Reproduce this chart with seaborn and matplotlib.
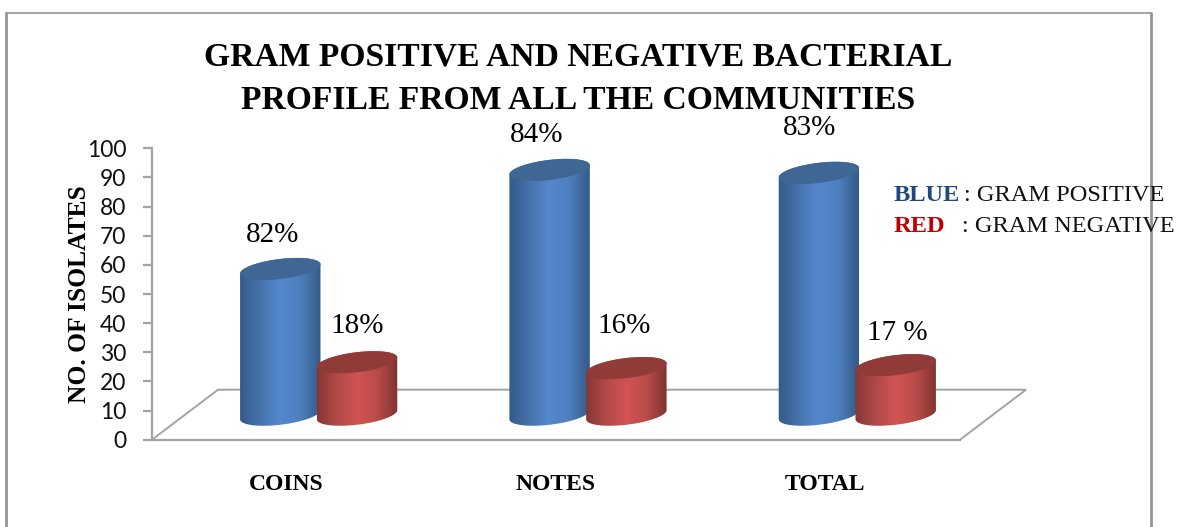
import numpy as np
import pandas as pd
import matplotlib
matplotlib.use("Agg")
import matplotlib.pyplot as plt
from matplotlib.colors import LinearSegmentedColormap
from matplotlib.patches import PathPatch, Polygon
from matplotlib.path import Path
import seaborn as sns

# Chart content
categories = ["COINS", "NOTES", "TOTAL"]
gram_positive = [50, 84, 83]
gram_negative = [18, 16, 17]
positive_labels = ["82%", "84%", "83%"]
negative_labels = ["18%", "16%", "17 %"]
title_text = "GRAM POSITIVE AND NEGATIVE BACTERIAL\nPROFILE FROM ALL THE COMMUNITIES"

W, H = 1177, 527
SERIF = "Liberation Serif"
SANS = "Lato"

sns.set_theme(style="white")
plt.rcParams["font.family"] = [SERIF, "DejaVu Serif"]

fig = plt.figure(figsize=(W / 100, H / 100), dpi=100, facecolor="white")


def fx(px):
    return px / W


def fy(py):
    return 1 - py / H


def axes_box(left, right, top, bottom):
    return [fx(left), fy(bottom), (right - left) / W, (bottom - top) / H]


# Front plane: carries the value axis and the floor outline
AX_L, AX_R, AX_T, AX_B = 152, 960, 148.3, 439.7
GRID = "#a3a3a3"
ax = fig.add_axes(axes_box(AX_L, AX_R, AX_T, AX_B), facecolor="none")
ax.set_xlim(-0.5, 2.5)
ax.set_ylim(0, 100)
ax.set_yticks(range(0, 101, 10))
ax.set_xticks(range(3), categories)
ax.tick_params(axis="y", length=6.5, width=1.6, color=GRID, left=True, pad=12)
ax.tick_params(axis="x", length=0, pad=24.5)
for lab in ax.get_yticklabels():
    lab.set(fontfamily=SANS, fontsize=16.5, color="#111111")
for lab in ax.get_xticklabels():
    lab.set(fontfamily=SERIF, fontweight="bold", fontsize=17, color="black")
for name in ("top", "right"):
    ax.spines[name].set_visible(False)
for name in ("left", "bottom"):
    ax.spines[name].set_color(GRID)
    ax.spines[name].set_linewidth(1.6)

x_per_px = 3 / (AX_R - AX_L)
y_per_px = 100 / (AX_B - AX_T)
depth_x, depth_y = 66 * x_per_px, 50 * y_per_px
ax.plot([-0.5, -0.5 + depth_x, 2.5 + depth_x, 2.5],
        [0, depth_y, depth_y, 0],
        color=GRID, lw=1.4, clip_on=False, solid_joinstyle="miter")

# Bars stand halfway back on the floor, in an axes shifted along the depth
SHIFT_X, SHIFT_Y = 32, 25
bar_ax = fig.add_axes(
    axes_box(AX_L + SHIFT_X, AX_R + SHIFT_X, AX_T - SHIFT_Y, AX_B - SHIFT_Y),
    facecolor="none",
)
df = pd.DataFrame({
    "category": categories * 2,
    "value": gram_positive + gram_negative,
    "gram": ["positive"] * 3 + ["negative"] * 3,
})
sns.barplot(data=df, x="category", y="value", hue="gram",
            hue_order=["positive", "negative"], width=0.57,
            palette=["#4f81bd", "#c0504d"], legend=False, ax=bar_ax)
bar_ax.set_xlim(-0.5, 2.5)
bar_ax.set_ylim(0, 100)
bar_ax.axis("off")

# Cylinder shading
RADIUS_PX, MINOR_PX, TILT = 40.5, 10, np.deg2rad(7)
shades = {
    "positive": (["#335a88", "#4673ab", "#5587cd", "#4e7fbe", "#345a86"], "#3f6795"),
    "negative": (["#873634", "#b04a48", "#d15453", "#b84c4a", "#7f3230"], "#913b39"),
}


def ellipse_points(cx, cy, start, stop, n=80):
    t = np.linspace(start, stop, n)
    dx = RADIUS_PX * np.cos(t) * np.cos(TILT) - MINOR_PX * np.sin(t) * np.sin(TILT)
    dy = RADIUS_PX * np.cos(t) * np.sin(TILT) + MINOR_PX * np.sin(t) * np.cos(TILT)
    return np.column_stack([cx + dx * x_per_px, cy + dy * y_per_px])


gradient = np.linspace(0, 1, 256).reshape(1, -1)
bars = list(bar_ax.patches)
for i, bar in enumerate(bars):
    kind = "positive" if i < 3 else "negative"
    stops, cap_color = shades[kind]
    cx = bar.get_x() + bar.get_width() / 2
    top = bar.get_height()
    bar.set_visible(False)

    # Extreme points of the tilted ellipse, where the sides are tangent
    t0 = np.arctan2(-MINOR_PX * np.sin(TILT), RADIUS_PX * np.cos(TILT))
    lower = ellipse_points(cx, 0, t0 + np.pi, t0 + 2 * np.pi)
    upper = ellipse_points(cx, top, t0, t0 + np.pi)
    outline = np.vstack([lower, upper, lower[:1]])
    body = PathPatch(Path(outline), transform=bar_ax.transData,
                     facecolor="none", edgecolor="none", clip_on=False)
    bar_ax.add_patch(body)
    half = RADIUS_PX * x_per_px
    img = bar_ax.imshow(
        gradient, extent=[cx - half, cx + half, -6, top + 6], aspect="auto",
        cmap=LinearSegmentedColormap.from_list(kind, stops),
        zorder=3 + i, interpolation="bilinear",
    )
    # The rounded base dips below the zero line of this axes
    img.set_clip_box(fig.bbox)
    img.set_clip_path(body)
    bar_ax.add_patch(Polygon(ellipse_points(cx, top, 0, 2 * np.pi, 120),
                             closed=True, facecolor=cap_color,
                             edgecolor="none", zorder=3 + i, clip_on=False))
bar_ax.set_xlim(-0.5, 2.5)
bar_ax.set_ylim(0, 100)

# Percent labels sit freely above the cylinders
label_spots = [(273, 235), (537, 135), (810, 128), (357, 326), (624, 326), (897, 333)]
for text, (px, py) in zip(positive_labels + negative_labels, label_spots):
    fig.text(fx(px), fy(py), text, ha="center", va="center",
             fontfamily=SERIF, fontsize=21, color="black", zorder=10)

fig.text(fx(578), fy(79), title_text, ha="center", va="center",
         fontfamily=SERIF, fontweight="bold", fontsize=24.2, linespacing=1.5,
         color="black", zorder=10)
fig.text(fx(79), fy(294), "NO. OF ISOLATES", rotation=90, ha="center", va="center",
         fontfamily=SERIF, fontweight="bold", fontsize=18.4, color="black", zorder=10)

# Colour key written out as text
key_font = dict(fontfamily=SERIF, fontsize=17.6, va="center", zorder=10)
fig.text(fx(894), fy(196), "BLUE", fontweight="bold", color="#1f497d", **key_font)
fig.text(fx(964), fy(196), ": GRAM POSITIVE", color="#111111", ha="left", **key_font)
fig.text(fx(894), fy(227), "RED", fontweight="bold", color="#c00000", **key_font)
fig.text(fx(962), fy(227), ": GRAM NEGATIVE", color="#111111", ha="left", **key_font)

# Outer chart frame, open at the bottom edge of the canvas
FRAME = "#969696"
frame_lines = [([5.5, 5.5], [527, 13], 2.0), ([5.5, 1151], [13, 13], 1.2),
               ([1151, 1151], [13, 527], 2.0)]
for xs, ys, lw in frame_lines:
    fig.add_artist(plt.Line2D([fx(v) for v in xs], [fy(v) for v in ys],
                              color=FRAME, lw=lw, zorder=5))

fig.savefig("out.png", dpi=100)
